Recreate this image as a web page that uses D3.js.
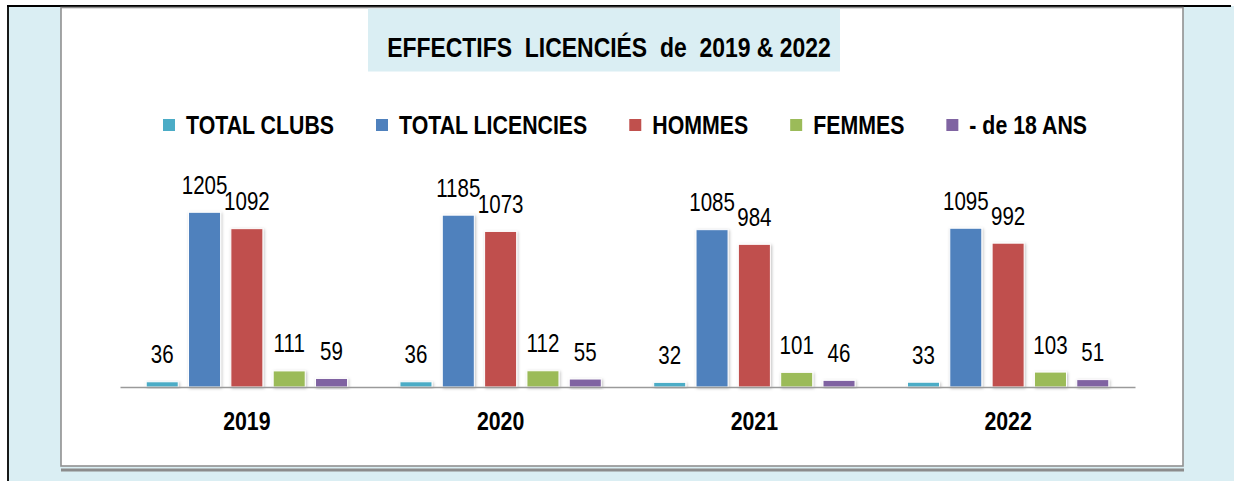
<!DOCTYPE html>
<html>
<head>
<meta charset="utf-8">
<script src="https://cdn.jsdelivr.net/npm/d3@7"></script>
<style>
  html, body { margin: 0; padding: 0; background: #ffffff; }
  svg { display: block; }
</style>
</head>
<body>
<div id="chart_div"></div>
<script>
var years = ['2019', '2020', '2021', '2022'];
var series_names = ['TOTAL CLUBS', 'TOTAL LICENCIES', 'HOMMES', 'FEMMES', '- de 18 ANS'];
var total_clubs = [36, 36, 32, 33];
var total_licencies = [1205, 1185, 1085, 1095];
var hommes = [1092, 1073, 984, 992];
var femmes = [111, 112, 101, 103];
var moins_18 = [59, 55, 46, 51];
var title_text = 'EFFECTIFS  LICENCIÉS  de  2019 & 2022';

var series_colors = ['#4bacc6', '#4f81bd', '#c0504d', '#9bbb59', '#8064a2'];

function draw_chart() {
    var width = 1234;
    var height = 481;
    var font = "'Liberation Sans', Arial, sans-serif";
    // the reference uses a narrow face; squeeze Arial-metric text to match
    var squeeze = 0.82;

    var values = [total_clubs, total_licencies, hommes, femmes, moins_18];
    var rows = years.map(function(y, i) {
        return {
            year: y,
            bars: series_names.map(function(s, j) { return { series: s, value: values[j][i], color: series_colors[j] }; })
        };
    });

    function place(sel, x, y, sx) {
        sx = sx || squeeze;
        return sel.attr('x', 0).attr('y', 0)
            .attr('transform', function(d, i) {
                var px = typeof x === 'function' ? x(d, i) : x;
                var py = typeof y === 'function' ? y(d, i) : y;
                return `translate(${px}, ${py}) scale(${sx}, 1)`;
            });
    }

    var svg = d3.select('#chart_div')
        .append('svg')
        .attr('width', width)
        .attr('height', height);

    var defs = svg.append('defs');
    var shadow = defs.append('filter')
        .attr('id', 'bar_shadow')
        .attr('x', '-30%').attr('y', '-30%')
        .attr('width', '160%').attr('height', '160%');
    shadow.append('feDropShadow')
        .attr('dx', 1).attr('dy', 1)
        .attr('stdDeviation', 1.5)
        .attr('flood-color', '#000')
        .attr('flood-opacity', 0.25);

    // outer frame
    svg.append('rect')
        .attr('x', 8).attr('y', 6)
        .attr('width', width - 8).attr('height', height - 6)
        .attr('fill', '#daeef3');
    svg.append('line')
        .attr('x1', 7).attr('x2', 1231).attr('y1', 6).attr('y2', 6)
        .attr('stroke', '#000').attr('stroke-width', 1.8);
    svg.append('line')
        .attr('x1', 8).attr('x2', 8).attr('y1', 5).attr('y2', height)
        .attr('stroke', '#000').attr('stroke-width', 1.8);

    // chart area + shadow
    svg.append('rect')
        .attr('x', 61).attr('y', 468.5)
        .attr('width', 1123).attr('height', 3)
        .attr('fill', '#8c8c8c');
    svg.append('rect')
        .attr('x', 61).attr('y', 7.5)
        .attr('width', 1122).attr('height', 458.5)
        .attr('fill', '#ffffff')
        .attr('stroke', '#909090')
        .attr('stroke-width', 1.6);

    // title
    svg.append('rect')
        .attr('x', 368).attr('y', 8.5)
        .attr('width', 472).attr('height', 63)
        .attr('fill', '#daeef3');
    svg.append('text')
        .call(place, 609, 57, 0.85)
        .attr('text-anchor', 'middle')
        .style('white-space', 'pre')
        .style('font-weight', 700)
        .style('font-size', '27px')
        .text(title_text);

    // scales
    var x0 = d3.scaleBand().domain(years).range([120, 1135]).padding(0);
    var x1 = d3.scaleBand().domain(series_names)
        .range([26.2, x0.bandwidth() - 26.2])
        .paddingInner(0.243).paddingOuter(0);
    var y = d3.scaleLinear().domain([0, 1400]).range([387, 184]);

    var groups = svg.append('g')
        .selectAll('g')
        .data(rows)
        .enter()
        .append('g')
        .attr('transform', function(d) { return `translate(${x0(d.year)}, 0)`; });

    groups.selectAll('rect')
        .data(function(d) { return d.bars; })
        .enter()
        .append('rect')
        .attr('x', function(d) { return x1(d.series); })
        .attr('y', function(d) { return y(d.value); })
        .attr('width', x1.bandwidth())
        .attr('height', function(d) { return y(0) - y(d.value); })
        .attr('fill', function(d) { return d.color; })
        .attr('stroke', '#ffffff')
        .attr('stroke-width', 1)
        .attr('filter', 'url(#bar_shadow)');

    groups.selectAll('text.value')
        .data(function(d) { return d.bars; })
        .enter()
        .append('text')
        .attr('class', 'value')
        .call(place,
            function(d) { return x1(d.series) + x1.bandwidth() / 2; },
            function(d) { return y(d.value) - 18.5; },
            0.79)
        .attr('text-anchor', 'middle')
        .style('font-size', '26px')
        .text(function(d) { return d.value; });

    // x axis
    var axis = svg.append('g')
        .attr('transform', 'translate(0, 387)')
        .call(d3.axisBottom(x0).tickSize(0).tickPadding(0));
    axis.select('.domain')
        .attr('stroke', '#9a9a9a')
        .attr('stroke-width', 1.5);
    axis.selectAll('.tick text')
        .call(place, 0, 43)
        .attr('dy', 0)
        .attr('fill', '#000')
        .style('font-weight', 700)
        .style('font-size', '26px');

    // legend
    var legend = svg.append('g').attr('transform', 'translate(0, 125)');
    var lx = 163;
    series_names.forEach(function(name, i) {
        legend.append('rect')
            .attr('x', lx).attr('y', -6)
            .attr('width', 12).attr('height', 12)
            .attr('fill', series_colors[i]);
        var t = legend.append('text')
            .call(place, lx + 23, 9)
            .style('font-weight', 700)
            .style('font-size', '26px')
            .style('font-family', font)
            .text(name);
        lx = lx + 23 + t.node().getComputedTextLength() * squeeze + 42;
    });

    svg.selectAll('text').style('font-family', font);
}

draw_chart();
</script>
</body>
</html>
